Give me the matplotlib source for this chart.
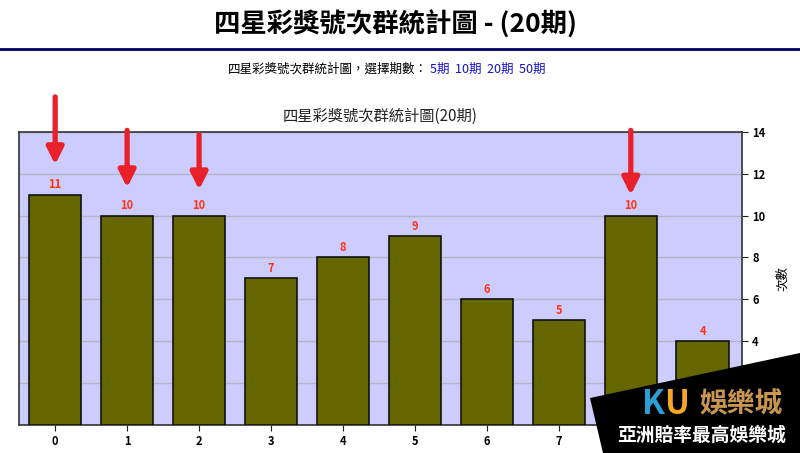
import matplotlib.pyplot as plt
from matplotlib.patches import Polygon

plt.rcParams['font.family'] = ['Noto Sans CJK TC', 'DejaVu Sans']

# data
numbers = ['0', '1', '2', '3', '4', '5', '6', '7', '8', '9']
counts = [11, 10, 10, 7, 8, 9, 6, 5, 10, 4]
marked = [0, 1, 2, 8]

fig = plt.figure(figsize=(8, 4.53), dpi=100)
ax = fig.add_axes([0.024, 0.062, 0.903, 0.647])
ax.set_facecolor('#ccccff')

x = list(range(len(numbers)))
ax.bar(x, counts, width=0.73, color='#666600', edgecolor='#111111', linewidth=1.2, zorder=3)
for xi, c in zip(x, counts):
    ax.text(xi, c + 0.15, str(c), ha='center', va='bottom', color='#ff3311',
            fontsize=8, fontweight='bold', zorder=4)

ax.set_xlim(-0.5, 9.54)
ax.set_ylim(0, 14)
ax.set_xticks(x)
ax.set_xticklabels(numbers, fontweight='bold', fontsize=8)
ax.set_yticks(range(0, 15, 2))
ax.set_yticklabels([str(v) for v in range(0, 15, 2)], fontweight='bold', fontsize=8)
ax.yaxis.tick_right()
ax.yaxis.set_label_position('right')
ax.set_ylabel('次數', fontsize=9, rotation=90, labelpad=8)
ax.tick_params(axis='both', length=4, color='#222222')
ax.grid(axis='y', color='#b4b4c4', linewidth=1, zorder=1)
for s in ax.spines.values():
    s.set_color('#333333')
    s.set_linewidth(1.2)

ax.set_title('四星彩獎號次群統計圖(20期)', fontsize=11, color='#222222', pad=8)

# red arrows
arrow_tops = [15.8, 14.2, 14.0, 14.2]
arrow_tips = [12.3, 11.2, 11.1, 10.85]
for m, t0, t1 in zip(marked, arrow_tops, arrow_tips):
    ax.annotate('', xy=(m, t1), xytext=(m, t0), annotation_clip=False,
                arrowprops=dict(arrowstyle='-|>,head_length=1.0,head_width=0.5',
                                color='#e8202a', linewidth=3.8), zorder=6)

# page header
fig.text(0.495, 0.945, '四星彩獎號次群統計圖 - (20期)', ha='center', va='center',
         fontsize=19, fontweight='bold')
fig.add_artist(plt.Line2D([0, 1], [1 - 49 / 453, 1 - 49 / 453], color='#000066', linewidth=2))
sub = fig.text(0.285, 1 - 69 / 453, '四星彩獎號次群統計圖，選擇期數：', ha='left', va='center',
               fontsize=9)
fig.canvas.draw()
bb = sub.get_window_extent(renderer=fig.canvas.get_renderer())
fig.text(bb.x1 / fig.bbox.width + 0.002, 1 - 69 / 453, '5期  10期  20期  50期', ha='left',
         va='center', fontsize=9, color='#1111cc')

# logo panel
poly = Polygon([(590 / 800, 1 - 398 / 453), (1, 1 - 353 / 453), (1, 0), (603 / 800, 0)],
               closed=True, transform=fig.transFigure, facecolor='black', zorder=10)
fig.add_artist(poly)
fig.text(0.802, 1 - 404 / 453, 'K', ha='left', va='center', fontsize=24, fontweight='bold',
         fontstyle='italic', color='#2a9fd6', zorder=11)
fig.text(0.830, 1 - 404 / 453, 'U', ha='left', va='center', fontsize=24, fontweight='bold',
         color='#f5a623', zorder=11)
fig.text(0.874, 1 - 404 / 453, '娛樂城', ha='left', va='center', fontsize=20, fontweight='bold',
         color='#c8964e', zorder=11)
fig.text(0.8775, 1 - 435 / 453, '亞洲賠率最高娛樂城', ha='center', va='center', fontsize=13.5,
         fontweight='bold', color='white', zorder=11)

fig.savefig('out.png', dpi=100)
